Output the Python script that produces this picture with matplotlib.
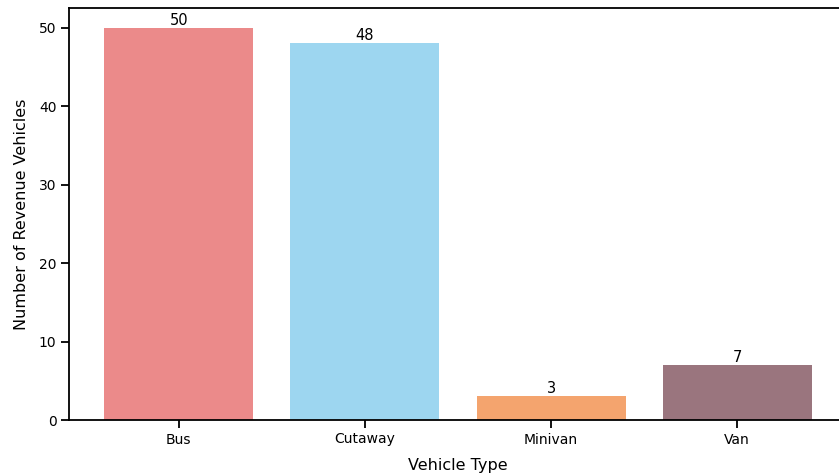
import matplotlib
matplotlib.use('Agg')
import matplotlib.pyplot as plt

vehicle_types = ['Bus', 'Cutaway', 'Minivan', 'Van']
counts = [50, 48, 3, 7]
colors = ['#eb8a8a', '#9dd6f0', '#f4a46e', '#9a757e']

fig = plt.figure(figsize=(8.39, 4.76), dpi=100)
# axes runs slightly past the right edge, like the cropped reference
ax = fig.add_axes([69 / 839, (476 - 420) / 476, (847 - 69) / 839, (420 - 8) / 476])

bars = ax.bar(vehicle_types, counts, color=colors, width=0.8)
for b, v in zip(bars, counts):
    ax.text(b.get_x() + b.get_width() / 2, v, str(v), ha='center', va='bottom', fontsize=10.5)

ax.set_ylim(0, 52.5)
ax.set_xlim(-0.59, 3.59)
ax.set_yticks([0, 10, 20, 30, 40, 50])
ax.set_xlabel('Vehicle Type', fontsize=11.5, labelpad=8)
ax.set_ylabel('Number of Revenue Vehicles', fontsize=11.5, labelpad=7)
ax.tick_params(labelsize=10, length=6, width=1.3, pad=3)
for s in ax.spines.values():
    s.set_linewidth(1.3)

fig.savefig('out.png', dpi=100)
